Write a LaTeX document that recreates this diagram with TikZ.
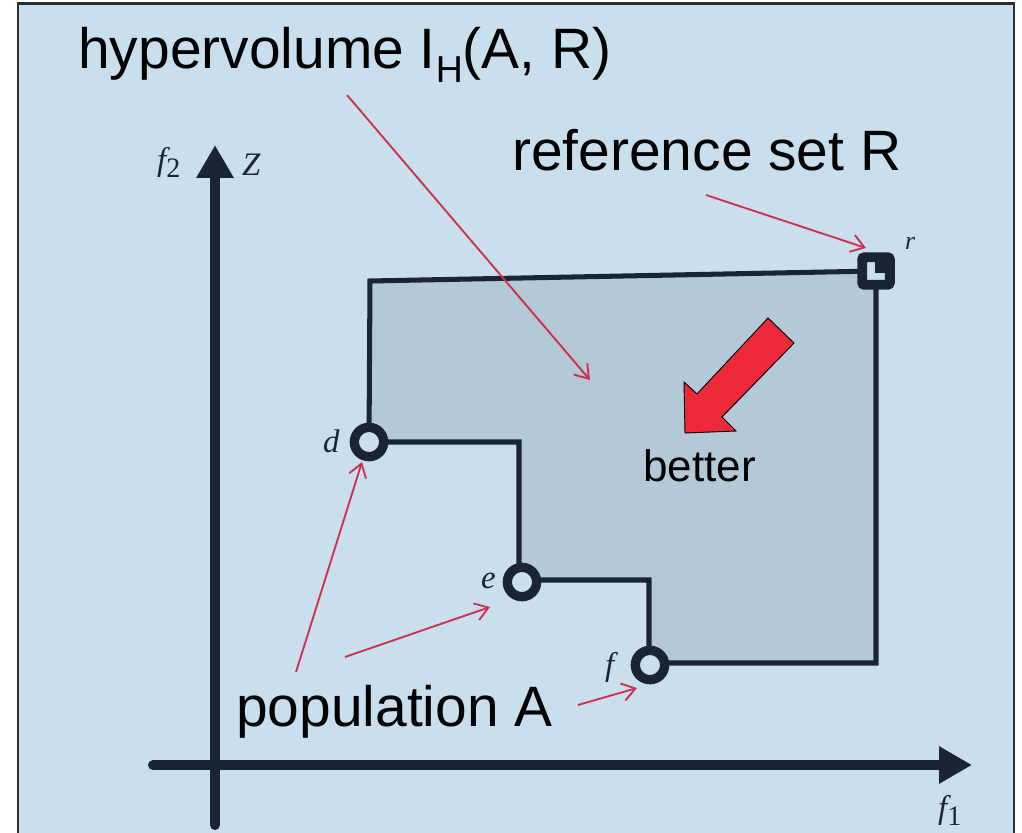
\documentclass[tikz,border=0pt]{standalone}
\usepackage{fontspec}
\setmainfont{Liberation Sans}
\newfontfamily\tnr{Liberation Serif}
\usetikzlibrary{arrows.meta}
\definecolor{bg}{RGB}{202,223,237}
\definecolor{shadefill}{RGB}{180,201,216}
\definecolor{ink}{RGB}{27,36,51}
\definecolor{framec}{RGB}{45,45,48}
\definecolor{redline}{RGB}{208,48,78}
\definecolor{redfill}{RGB}{236,42,58}
\begin{document}
\begin{tikzpicture}[x=0.03cm,y=-0.03cm,
  big/.style={font=\fontsize{48.6pt}{58pt}\selectfont, anchor=base west, inner sep=0, text=black},
  lab/.style={font=\tnr\itshape\fontsize{28pt}{32pt}\selectfont, anchor=base west, inner sep=0, text=ink},
  axis/.style={draw=ink, line width=8.5pt, line cap=round, -{Triangle[length=28pt,width=30pt]}},
  edgeline/.style={draw=ink, line width=4.3pt, line join=miter},
  ring/.style={circle, draw=ink, fill=bg, line width=8pt, minimum size=25pt, inner sep=0},
  refmark/.style={rectangle, draw=ink, fill=bg, line width=8.5pt, minimum size=23.5pt, inner sep=0, rounded corners=2pt},
  pointer/.style={draw=redline, line width=1.6pt, -{Straight Barb[length=11pt,width=15pt]}}]
\useasboundingbox (0,0) rectangle (1022,833);
\fill[white] (0,0) rectangle (1022,833);
\fill[bg] (18,3.5) rectangle (1014,833);
\draw[framec, line width=1.8pt] (18,833) -- (18,3.5) -- (1014,3.5) -- (1014,833);

% dominated region
\coordinate (tl) at (370,281);
\coordinate (tr) at (876,271);
\coordinate (br) at (876,663);
\coordinate (fc) at (649,663);
\coordinate (fe) at (649,580);
\coordinate (ec) at (519,580);
\coordinate (ed) at (519,442);
\coordinate (dc) at (369,442);
\filldraw[fill=shadefill, edgeline] (tl) -- (tr) -- (br) -- (fc) -- (fe) -- (ec) -- (ed) -- (dc) -- cycle;

% axes
\coordinate (xs) at (153,765);
\coordinate (xe) at (972,765);
\coordinate (ys) at (215,825);
\coordinate (ye) at (215,145);
\draw[axis] (xs) -- (xe);
\draw[axis] (ys) -- (ye);

% points
\node[ring] (d) at (369,442) {};
\node[ring] (e) at (522,582) {};
\node[ring] (f) at (650,665) {};
\node[refmark] (r) at (876,271) {};
\fill[ink] (875,262) rectangle (885,273);

% labels
\node[lab] (lf2) at (157,170) {f\raisebox{-6pt}{\fontsize{24pt}{24pt}\selectfont\upshape 2}};
\node[lab] (lz) at (242,175) {Z};
\node[lab] (lf1) at (938,818) {f\raisebox{-6pt}{\fontsize{24pt}{24pt}\selectfont\upshape 1}};
\node[lab] (lr) at (905,249) {\fontsize{22pt}{22pt}\selectfont r};
\node[lab] (ld) at (323,452) {d};
\node[lab] (le) at (481,588) {e};
\node[lab] (lf) at (605,675) {f};

% texts
\node[big] (title) at (78,68) {hypervolume I\raisebox{-12pt}{\fontsize{32pt}{32pt}\selectfont H}(A, R)};
\node[big] (refset) at (512,170) {reference set R};
\node[big] (pop) at (236,726) {population A};
\node[font=\fontsize{37.6pt}{44pt}\selectfont, anchor=base west, inner sep=0] (better) at (643,481) {better};

% better arrow
\filldraw[fill=redfill, draw=black, line width=0.8pt, line join=miter]
  (768,318) -- (794,343) -- (722,417) -- (736,431) -- (685,433) -- (684,382) -- (697,394) -- cycle;

% pointers
\coordinate (p1s) at (347,95);   \coordinate (p1e) at (590,380);
\coordinate (p2s) at (706,195);  \coordinate (p2e) at (866,248);
\coordinate (p3s) at (296,672);  \coordinate (p3e) at (362,462);
\coordinate (p4s) at (345,657);  \coordinate (p4e) at (490,607);
\coordinate (p5s) at (578,705);  \coordinate (p5e) at (637,688);
\draw[pointer] (p1s) -- (p1e);
\draw[pointer] (p2s) -- (p2e);
\draw[pointer] (p3s) -- (p3e);
\draw[pointer] (p4s) -- (p4e);
\draw[pointer] (p5s) -- (p5e);
\end{tikzpicture}
\end{document}
